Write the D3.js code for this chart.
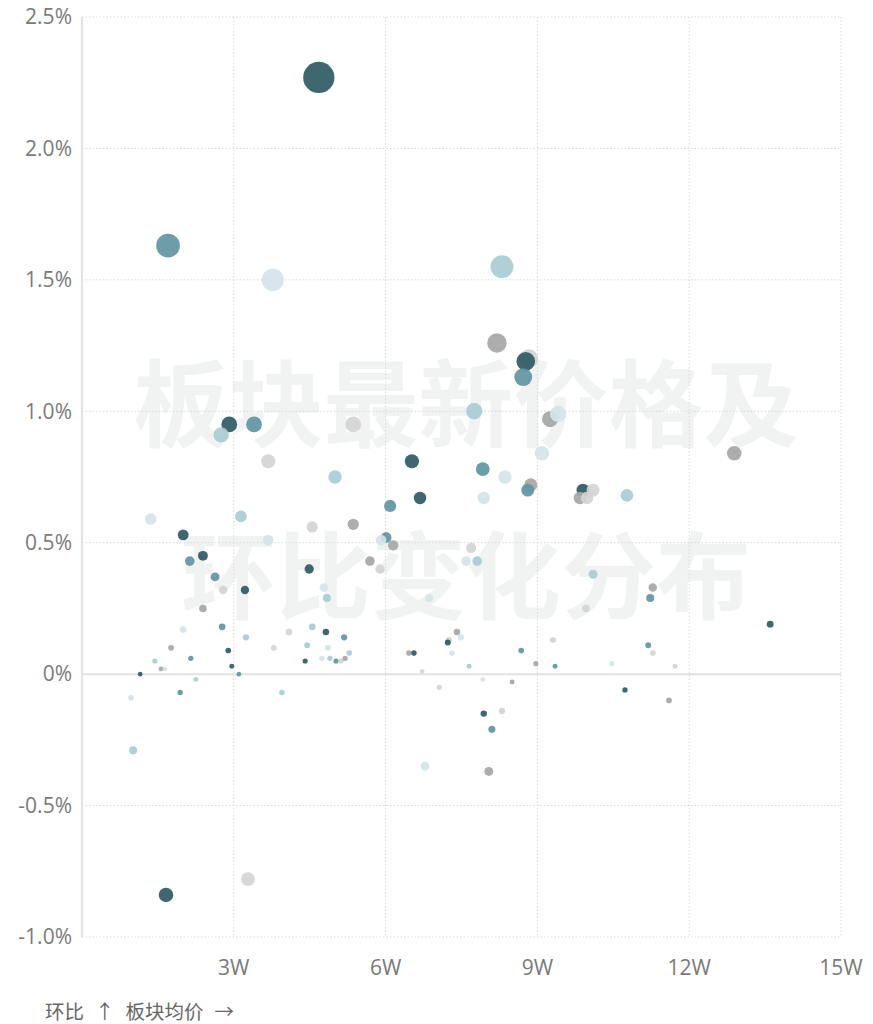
<!DOCTYPE html>
<html>
<head>
<meta charset="utf-8">
<style>
    body { margin: 0; background: #fff; }
    svg { display: block; font-family: "Open Sans", "Noto Sans", "Noto Sans CJK SC", sans-serif; }
    .grid line { stroke: #d9d9d9; stroke-width: 1; stroke-dasharray: 1.5,2; }
    .tick-label { fill: #7a7a7a; font-size: 21px; }
    .watermark { fill: #f1f3f3; font-family: "Noto Sans CJK SC", sans-serif; font-weight: 700; font-size: 95px; }
</style>
</head>
<body>
<script src="https://cdn.jsdelivr.net/npm/d3@7/dist/d3.min.js"></script>
<script>
// 板块均价 (万) , 环比 (%), 色组
let priceW = [4.68, 1.70, 3.77, 8.30, 8.20, 8.83, 8.77, 8.72, 7.75, 9.25,
              9.41, 9.09, 12.89, 2.91, 2.75, 3.40, 5.36, 3.68, 6.52, 5.00,
              7.92, 8.36, 7.94, 6.68, 8.87, 8.81, 9.90, 10.10, 9.84, 9.98,
              10.77, 10.10, 11.28, 11.23, 9.96, 6.09, 1.36, 3.14, 2.00, 4.55,
              5.36, 3.68, 6.01, 5.91, 6.15, 2.13, 2.39, 4.49, 5.69, 5.89,
              2.63, 2.79, 3.22, 4.78, 4.84, 2.39, 7.69, 7.59, 7.81, 6.86,
              2.00, 2.77, 1.76, 1.44, 1.56, 1.64, 1.15, 2.15, 2.89, 2.96,
              3.10, 2.25, 1.94, 0.97, 1.01, 3.24, 3.95, 3.79, 4.09, 4.55,
              4.82, 5.18, 4.45, 4.86, 4.41, 4.74, 4.90, 5.02, 5.12, 5.20,
              5.28, 7.41, 7.25, 7.23, 7.49, 7.31, 7.65, 6.46, 6.56, 6.72,
              7.06, 7.92, 8.50, 7.94, 8.30, 8.68, 8.97, 9.31, 9.35, 10.47,
              11.19, 11.28, 11.72, 10.73, 11.60, 8.10, 6.78, 8.04, 13.60, 1.66,
              3.28];
let changePct = [2.27, 1.63, 1.50, 1.55, 1.26, 1.20, 1.19, 1.13, 1.00, 0.97,
                 0.99, 0.84, 0.84, 0.95, 0.91, 0.95, 0.95, 0.81, 0.81, 0.75,
                 0.78, 0.75, 0.67, 0.67, 0.72, 0.70, 0.70, 0.70, 0.67, 0.67,
                 0.68, 0.38, 0.33, 0.29, 0.25, 0.64, 0.59, 0.60, 0.53, 0.56,
                 0.57, 0.51, 0.52, 0.51, 0.49, 0.43, 0.45, 0.40, 0.43, 0.40,
                 0.37, 0.32, 0.32, 0.33, 0.29, 0.25, 0.48, 0.43, 0.43, 0.29,
                 0.17, 0.18, 0.10, 0.05, 0.02, 0.02, 0.00, 0.06, 0.09, 0.03,
                 0.00, -0.02, -0.07, -0.09, -0.29, 0.14, -0.07, 0.10, 0.16, 0.18,
                 0.16, 0.14, 0.11, 0.10, 0.05, 0.06, 0.06, 0.05, 0.05, 0.06,
                 0.08, 0.16, 0.13, 0.12, 0.14, 0.08, 0.03, 0.08, 0.08, 0.01,
                 -0.05, -0.02, -0.03, -0.15, -0.14, 0.09, 0.04, 0.13, 0.03, 0.04,
                 0.11, 0.08, 0.03, -0.06, -0.10, -0.21, -0.35, -0.37, 0.19, -0.84,
                 -0.78];
let group = ["D","M","V","L","G","LG","D","M","L","G",
             "V","V","G","D","L","M","LG","LG","D","L",
             "M","V","V","D","G","M","D","LG","G","LG",
             "L","L","G","M","LG","M","V","L","D","LG",
             "G","V","M","V","G","M","D","D","G","LG",
             "M","LG","D","V","L","G","LG","V","L","V",
             "V","M","G","L","G","V","D","M","D","D",
             "M","L","M","V","L","L","L","LG","LG","L",
             "D","M","L","V","D","V","L","M","LG","G",
             "L","G","LG","D","V","V","L","G","D","LG",
             "LG","V","G","D","LG","M","G","LG","M","V",
             "M","LG","LG","D","G","M","V","G","D","D",
             "LG"];

let groupColor = { D: "#2f5a63", M: "#5e96a2", L: "#a8ccd3", V: "#d3e4e8", G: "#a6a6a6", LG: "#d4d4d4" };

let xTicks = [3, 6, 9, 12, 15];
let yTicks = [-1.0, -0.5, 0, 0.5, 1.0, 1.5, 2.0, 2.5];
let watermarkLines = ["板块最新价格及", "环比变化分布"];
let axisNote = ["环比", "↑", "板块均价", "→"];

let w = 873, h = 1024;
let plotL = 82, plotR = 841, plotT = 17, plotB = 937;

let svg = d3.select("body").append("svg")
    .attr("width", w)
    .attr("height", h);

let x = d3.scaleLinear().domain([0, 15]).range([plotL, plotR]);
let y = d3.scaleLinear().domain([-1, 2.5]).range([plotB, plotT]);
let r = d3.scaleLinear().domain([0, 2.5]).range([2.3, 17]);

// watermark
svg.append("g")
    .selectAll("text")
    .data(watermarkLines)
    .enter().append("text")
        .attr("class", "watermark")
        .attr("x", 466)
        .attr("y", function(d, i) { return 406 + i * 172; })
        .attr("dy", "0.36em")
        .attr("text-anchor", "middle")
        .text(function(d) { return d; });

// grid
let grid = svg.append("g").attr("class", "grid");
grid.selectAll("line.gx")
    .data(xTicks)
    .enter().append("line")
        .attr("x1", function(d) { return x(d); })
        .attr("x2", function(d) { return x(d); })
        .attr("y1", plotT)
        .attr("y2", plotB);
grid.selectAll("line.gy")
    .data(yTicks.filter(function(d) { return d != 0; }))
    .enter().append("line")
        .attr("x1", plotL)
        .attr("x2", plotR)
        .attr("y1", function(d) { return y(d); })
        .attr("y2", function(d) { return y(d); });

// y axis line and zero line
svg.append("line")
    .attr("x1", plotL).attr("x2", plotL)
    .attr("y1", plotT).attr("y2", plotB)
    .attr("stroke", "#e2e2e2").attr("stroke-width", 2);
svg.append("line")
    .attr("x1", plotL).attr("x2", plotR)
    .attr("y1", y(0)).attr("y2", y(0))
    .attr("stroke", "#e2e2e2").attr("stroke-width", 2);

// tick labels
svg.append("g")
    .selectAll("text")
    .data(yTicks)
    .enter().append("text")
        .attr("class", "tick-label")
        .attr("x", 72)
        .attr("y", function(d) { return y(d); })
        .attr("dy", "0.35em")
        .attr("text-anchor", "end")
        .text(function(d) { return d == 0 ? "0%" : d.toFixed(1) + "%"; });

svg.append("g")
    .selectAll("text")
    .data(xTicks)
    .enter().append("text")
        .attr("class", "tick-label")
        .attr("x", function(d) { return x(d); })
        .attr("y", plotB + 31)
        .attr("dy", "0.35em")
        .attr("text-anchor", "middle")
        .text(function(d) { return d + "W"; });

// dots
let points = priceW.map(function(p, i) {
    return { x: p, y: changePct[i], g: group[i] };
});

svg.append("g")
    .selectAll("circle")
    .data(points)
    .enter().append("circle")
        .attr("cx", function(d) { return x(d.x); })
        .attr("cy", function(d) { return y(d.y); })
        .attr("r", function(d) { return r(Math.abs(d.y)); })
        .attr("fill", function(d) { return groupColor[d.g]; })
        .attr("fill-opacity", 0.92);

// axis note
svg.append("text")
    .attr("x", 45)
    .attr("y", 1012)
    .attr("dy", "0.35em")
    .attr("fill", "#666")
    .attr("font-size", "19.5px")
    .attr("font-family", "\"Noto Sans CJK SC\", sans-serif")
    .selectAll("tspan")
    .data(axisNote)
    .enter().append("tspan")
        .attr("dx", function(d, i) { return i == 0 ? 0 : 11; })
        .text(function(d) { return d; });
</script>
</body>
</html>
